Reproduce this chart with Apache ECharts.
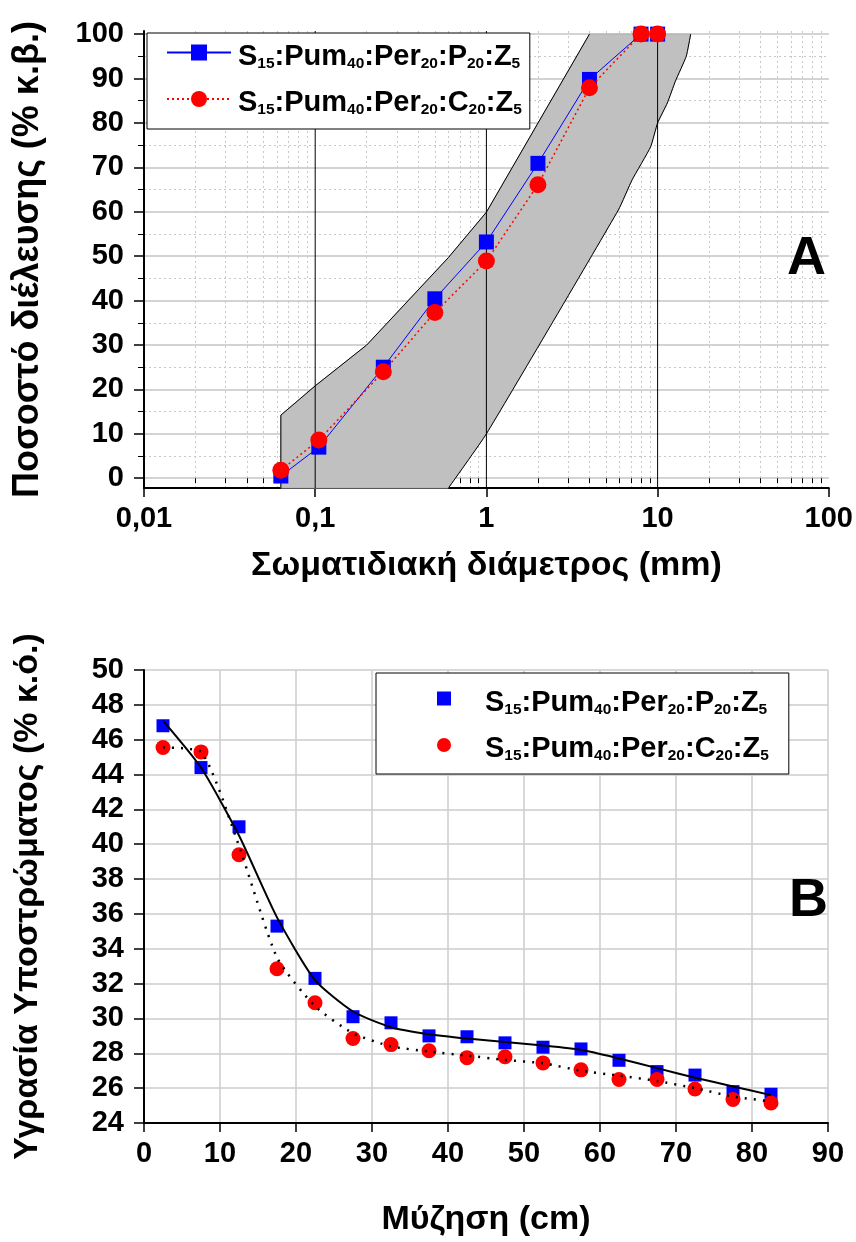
<!DOCTYPE html>
<html><head><meta charset="utf-8">
<script src="https://cdn.jsdelivr.net/npm/echarts@6/dist/echarts.min.js"></script>
<style>html,body{margin:0;padding:0;background:#fff;} #a{width:856px;height:600px;} #b{width:856px;height:642px;}</style>
</head><body><div id="a"></div><div id="b"></div>
<script>
// ---------- Chart A data ----------
const sizesA = [0.063, 0.105, 0.25, 0.5, 1, 2, 4, 8, 10];
const passP = [0.5, 7.0, 25.0, 40.4, 53.2, 70.9, 89.8, 100, 100];
const passC = [1.8, 8.6, 24.0, 37.3, 48.9, 66.1, 87.9, 100, 100];
const envUpper = [[0.063, -2.2], [0.063, 14.2], [0.1, 20.8], [0.2, 30], [0.6, 49.7], [1, 59.9], [4, 100], [15.6, 100]];
const envLower = [[15.6, 100], [14.7, 95], [12.7, 89.4], [11.4, 84.5], [10, 80], [9.1, 74.6], [7.1, 67.2], [5.9, 60.4], [1, 10], [0.6, -2.2]];
const decadeLines = [[0.1, -2.2, 100.7], [1, -2.2, 100.7], [10, -2.2, 100.7]];
const yLabelsA = [0, 10, 20, 30, 40, 50, 60, 70, 80, 90, 100];
const yMinorA = [5, 15, 25, 35, 45, 55, 65, 75, 85, 95];
const xLabelsA = [0.01, 0.1, 1, 10, 100];
const xMinorA = [0.02, 0.03, 0.04, 0.05, 0.06, 0.07, 0.08, 0.09,
  0.2, 0.3, 0.4, 0.5, 0.6, 0.7, 0.8, 0.9,
  2, 3, 4, 5, 6, 7, 8, 9,
  20, 30, 40, 50, 60, 70, 80, 90];

// ---------- Chart B data ----------
const depthB = [2.5, 7.5, 12.5, 17.5, 22.5, 27.5, 32.5, 37.5, 42.5, 47.5, 52.5, 57.5, 62.5, 67.5, 72.5, 77.5, 82.5];
const moistP = [46.8, 44.4, 41.0, 35.3, 32.3, 30.1, 29.75, 29.0, 28.95, 28.6, 28.35, 28.25, 27.6, 26.95, 26.75, 25.8, 25.65];
const moistC = [45.55, 45.3, 39.4, 32.85, 30.9, 28.85, 28.5, 28.15, 27.75, 27.8, 27.45, 27.05, 26.5, 26.5, 25.95, 25.35, 25.15];
const fitP = [47.1, 44.4, 40.5, 35.8, 32.2, 30.4, 29.5, 29.1, 28.85, 28.65, 28.45, 28.2, 27.7, 27.15, 26.6, 26.1, 25.6];
const fitC = [45.55, 45.3, 39.9, 33.5, 30.7, 29.15, 28.4, 28.1, 27.87, 27.62, 27.43, 27.0, 26.72, 26.41, 26.0, 25.52, 25.24];

// ---------- labels ----------
const nameP = 'S15:Pum40:Per20:P20:Z5';
const nameC = 'S15:Pum40:Per20:C20:Z5';
const partsP = [['S', '15'], [':Pum', '40'], [':Per', '20'], [':P', '20'], [':Z', '5']];
const partsC = [['S', '15'], [':Pum', '40'], [':Per', '20'], [':C', '20'], [':Z', '5']];
const titleYA = 'Ποσοστό διέλευσης (% κ.β.)';
const titleXA = 'Σωματιδιακή διάμετρος (mm)';
const titleYB = 'Υγρασία Υποστρώματος (% κ.ό.)';
const titleXB = 'Μύζηση (cm)';

const FF = "'Liberation Sans', Arial, sans-serif";
const TICK_FS = 29, TITLE_FS = 34;

function richName(name) {
  const parts = name === nameP ? partsP : partsC;
  return parts.map(p => '{m|' + p[0] + '}{s|' + p[1] + '}').join('');
}
function legendText(padLeft) {
  return {
    fontFamily: FF, fontSize: 29, fontWeight: 'bold', color: '#000', padding: [8, 0, 0, padLeft],
    rich: {
      m: { fontFamily: FF, fontSize: 29, fontWeight: 'bold', color: '#000', lineHeight: 30 },
      s: { fontFamily: FF, fontSize: 15.5, fontWeight: 'bold', color: '#000', lineHeight: 12, verticalAlign: 'bottom' }
    }
  };
}
const boldTick = { fontFamily: FF, fontSize: TICK_FS, fontWeight: 'bold', color: '#000' };
const boldTitle = { fontFamily: FF, fontSize: TITLE_FS, fontWeight: 'bold', color: '#000' };

// ---------- Chart A ----------
const chartA = echarts.init(document.getElementById('a'), null, { renderer: 'canvas' });
const yMinA = -2.2, yMaxA = 100.7;
chartA.setOption({
  animation: false,
  backgroundColor: '#fff',
  grid: { left: 144, right: 27, top: 31, bottom: 112 },
  xAxis: [
    {
      type: 'log', logBase: 10, min: 0.01, max: 100,
      name: titleXA, nameLocation: 'middle', nameGap: 61, nameTextStyle: boldTitle,
      axisLine: { show: true, onZero: false, lineStyle: { color: '#000', width: 2 } },
      axisTick: { show: true, inside: false, length: 9, lineStyle: { color: '#000', width: 1.5 }, customValues: xLabelsA },
      axisLabel: Object.assign({ margin: 16, customValues: xLabelsA, formatter: v => String(v).replace('.', ',') }, boldTick),
      splitLine: { show: false }, minorTick: { show: false }
    },
    {
      type: 'log', logBase: 10, min: 0.01, max: 100, position: 'bottom',
      axisLine: { show: false },
      axisTick: { show: true, inside: false, length: 5, lineStyle: { color: '#000', width: 1 }, customValues: xMinorA },
      axisLabel: { show: false },
      splitLine: { show: true, lineStyle: { color: '#c8c8c8', width: 1, type: [2, 3] } }
    }
  ],
  yAxis: [
    {
      type: 'value', min: yMinA, max: yMaxA,
      name: titleYA, nameLocation: 'middle', nameGap: 98,
      nameTextStyle: { fontFamily: FF, fontSize: 36, fontWeight: 'bold', color: '#000' },
      axisLine: { show: true, onZero: false, lineStyle: { color: '#000', width: 2 } },
      axisTick: { show: true, inside: false, length: 10, lineStyle: { color: '#000', width: 1.5 }, customValues: yLabelsA },
      axisLabel: Object.assign({ margin: 20, customValues: yLabelsA }, boldTick),
      splitLine: { show: true, lineStyle: { color: '#c4c4c4', width: 1.5 } }
    },
    {
      type: 'value', min: yMinA, max: yMaxA, position: 'left',
      axisLine: { show: false },
      axisTick: { show: true, inside: false, length: 6, lineStyle: { color: '#000', width: 1 }, customValues: yMinorA },
      axisLabel: { show: false },
      splitLine: { show: true, lineStyle: { color: '#c8c8c8', width: 1, type: [2, 3] } }
    }
  ],
  legend: {
    orient: 'vertical', left: 147, top: 33,
    data: [nameP, nameC],
    itemWidth: 64, itemHeight: 20, itemGap: 17,
    padding: [9, 8, 11, 19],
    backgroundColor: '#fff', borderColor: '#000', borderWidth: 1, borderRadius: 0,
    formatter: richName, textStyle: legendText(2), selectedMode: false
  },
  graphic: [{ type: 'text', left: 787, top: 232, z: 100, style: { text: 'A', fontFamily: FF, fontSize: 54, fontWeight: 'bold', fill: '#000', stroke: null, lineWidth: 0 } }],
  series: [
    {
      type: 'custom', name: 'envelope', xAxisIndex: 0, yAxisIndex: 0, z: 1, silent: true,
      data: [[envUpper[0][0], envUpper[0][1]]],
      renderItem: function (params, api) {
        const up = envUpper.map(p => api.coord(p));
        const lo = envLower.map(p => api.coord(p));
        return {
          type: 'group', children: [
            { type: 'polygon', shape: { points: up.concat(lo) }, style: { fill: '#c0c0c0', stroke: '#b0b0b0', lineWidth: 1 } },
            { type: 'polyline', shape: { points: up.slice(0, 7) }, style: { fill: null, stroke: '#000', lineWidth: 1 } },
            { type: 'polyline', shape: { points: lo, smooth: 0.15 }, style: { fill: null, stroke: '#000', lineWidth: 1 } }
          ]
        };
      }
    },
    {
      type: 'custom', name: 'decades', xAxisIndex: 0, yAxisIndex: 0, z: 1, silent: true,
      data: decadeLines,
      renderItem: function (params, api) {
        const a = api.coord([api.value(0), api.value(1)]);
        const b = api.coord([api.value(0), api.value(2)]);
        return { type: 'line', shape: { x1: a[0], y1: a[1], x2: b[0], y2: b[1] }, style: { stroke: '#000', lineWidth: 1 } };
      }
    },
    {
      type: 'line', name: nameP, xAxisIndex: 0, yAxisIndex: 0, z: 3,
      data: sizesA.map((x, i) => [x, passP[i]]),
      symbol: 'rect', symbolSize: 15, itemStyle: { color: '#0000ff', opacity: 1 },
      lineStyle: { color: '#0000ff', width: 1 }
    },
    {
      type: 'line', name: nameC, xAxisIndex: 0, yAxisIndex: 0, z: 4,
      data: sizesA.map((x, i) => [x, passC[i]]),
      symbol: 'circle', symbolSize: 17, itemStyle: { color: '#ff0000', opacity: 1 },
      lineStyle: { color: '#ff0000', width: 1.5, type: [2, 3] }
    }
  ]
});

// ---------- Chart B ----------
const chartB = echarts.init(document.getElementById('b'), null, { renderer: 'canvas' });
chartB.setOption({
  animation: false,
  backgroundColor: '#fff',
  grid: { left: 144, right: 28, top: 70, bottom: 117 },
  xAxis: {
    type: 'value', min: 0, max: 90, interval: 10,
    name: titleXB, nameLocation: 'middle', nameGap: 80, nameTextStyle: boldTitle,
    axisLine: { show: true, onZero: false, lineStyle: { color: '#000', width: 2 } },
    axisTick: { show: true, inside: false, length: 9, lineStyle: { color: '#000', width: 1.5 } },
    axisLabel: Object.assign({ margin: 16 }, boldTick),
    splitLine: { show: true, lineStyle: { color: '#cccccc', width: 1.5 } }
  },
  yAxis: {
    type: 'value', min: 24, max: 50, interval: 2,
    name: titleYB, nameLocation: 'middle', nameGap: 99, nameTextStyle: boldTitle,
    axisLine: { show: true, onZero: false, lineStyle: { color: '#000', width: 2 } },
    axisTick: { show: true, inside: false, length: 10, lineStyle: { color: '#000', width: 1.5 } },
    axisLabel: Object.assign({ margin: 20 }, boldTick),
    splitLine: { show: true, lineStyle: { color: '#cccccc', width: 1.5 } }
  },
  legend: {
    orient: 'vertical', left: 376, top: 73,
    data: [{ name: nameP, icon: 'rect' }, { name: nameC, icon: 'circle' }],
    itemWidth: 14, itemHeight: 14, itemGap: 17,
    padding: [15, 20, 10, 61],
    backgroundColor: '#fff', borderColor: '#000', borderWidth: 1, borderRadius: 0,
    formatter: richName, textStyle: legendText(29), selectedMode: false
  },
  graphic: [{ type: 'text', left: 789, top: 274, z: 100, style: { text: 'B', fontFamily: FF, fontSize: 54, fontWeight: 'bold', fill: '#000', stroke: null, lineWidth: 0 } }],
  series: [
    {
      type: 'scatter', name: nameP, z: 2,
      data: depthB.map((x, i) => [x, moistP[i]]),
      symbol: 'rect', symbolSize: 13, itemStyle: { color: '#0000ff', opacity: 1 }
    },
    {
      type: 'scatter', name: nameC, z: 2,
      data: depthB.map((x, i) => [x, moistC[i]]),
      symbol: 'circle', symbolSize: 15, itemStyle: { color: '#ff0000', opacity: 1 }
    },
    {
      type: 'line', name: 'fitP', z: 3, silent: true,
      data: depthB.map((x, i) => [x, fitP[i]]),
      symbol: 'none', smooth: 0.2,
      lineStyle: { color: '#000', width: 2 }
    },
    {
      type: 'line', name: 'fitC', z: 3, silent: true,
      data: depthB.map((x, i) => [x, fitC[i]]),
      symbol: 'none', smooth: 0.2,
      lineStyle: { color: '#000', width: 2.5, type: [2, 7] }
    }
  ]
});
</script>
</body></html>
